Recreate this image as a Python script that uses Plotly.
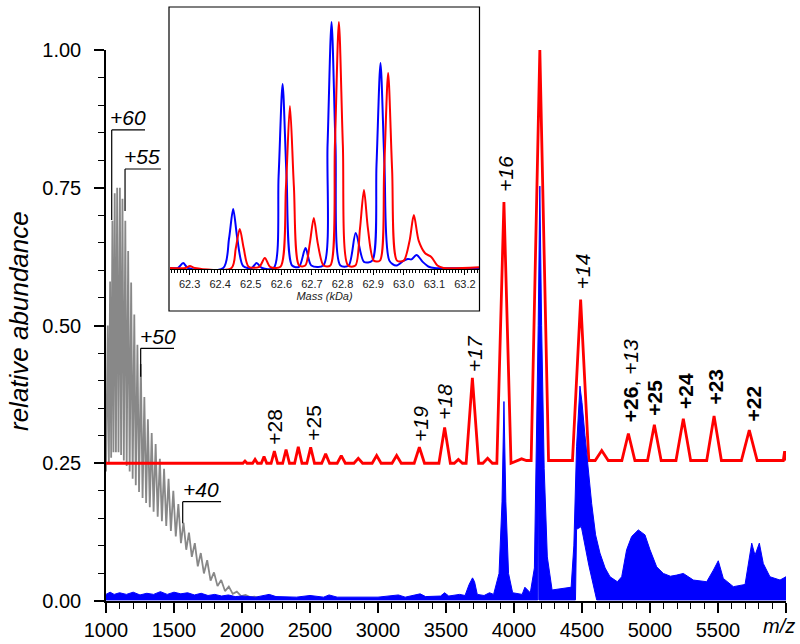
import plotly.graph_objects as go

# ---------------- main spectrum data (m/z, relative abundance) ----------------
# grey: charge-state envelope (peaks and valleys)
grey_peak_mz = [1013, 1030, 1047, 1064, 1082, 1102, 1121, 1142, 1163, 1185, 1208, 1231,
                1256, 1282, 1308, 1336, 1365, 1396, 1427, 1460, 1495, 1532, 1570, 1610,
                1653, 1697, 1744, 1794, 1847, 1903, 1962, 2026, 2093]
grey_peak_ab = [0.50, 0.58, 0.69, 0.74, 0.75, 0.75, 0.73, 0.69, 0.635, 0.578, 0.52, 0.465,
                0.43, 0.37, 0.33, 0.305, 0.285, 0.258, 0.24, 0.222, 0.20, 0.176, 0.142, 0.124,
                0.105, 0.087, 0.074, 0.052, 0.038, 0.026, 0.017, 0.011, 0.008]
grey_valley_mz = [1000, 1021, 1038, 1055, 1073, 1092, 1111, 1131, 1152, 1174, 1196, 1219, 1243,
                  1269, 1295, 1322, 1350, 1380, 1411, 1443, 1477, 1513, 1551, 1590, 1631,
                  1675, 1720, 1769, 1820, 1875, 1932, 1994, 2059, 2130]
grey_valley_ab = [0.235, 0.25, 0.26, 0.27, 0.27, 0.27, 0.265, 0.255, 0.245, 0.235, 0.222, 0.21, 0.198,
                  0.187, 0.178, 0.17, 0.162, 0.153, 0.145, 0.136, 0.127, 0.117, 0.105, 0.093, 0.08,
                  0.063, 0.05, 0.037, 0.027, 0.018, 0.013, 0.009, 0.007, 0.005]

# red: offset spectrum, peak table (centre, apex, half width at base, local baseline)
red_peak_mz = [2022, 2096, 2162, 2238, 2324, 2414, 2505, 2615, 2730, 2855, 2990, 3137, 3304,
               3490, 3591, 3694, 3806, 3926, 4056, 4190, 4490, 4645, 4841, 5032, 5245, 5471,
               5730, 5990]
red_peak_ab = [0.254, 0.257, 0.262, 0.272, 0.275, 0.28, 0.279, 0.267, 0.264, 0.259, 0.264, 0.264,
               0.279, 0.315, 0.257, 0.405, 0.259, 0.724, 0.258, 1.0, 0.547, 0.273, 0.304, 0.32,
               0.331, 0.336, 0.31, 0.272]
red_peak_hw = [15, 18, 20, 24, 25, 27, 28, 29, 30, 32, 33, 34, 38, 42, 30, 46, 35, 52, 35, 64, 60,
               48, 48, 50, 54, 54, 58, 10]
red_peak_base = [0.25] * 18 + [0.255] * 10
red_start = (1000, 0.25)
red_end = (6000, 0.258)

# blue: dense spectrum drawn as envelope band (upper and lower edges)
blue_upper_mz = [1000, 1030, 1060, 1100, 1150, 1200, 1250, 1300, 1350, 1400, 1450, 1500, 1550,
                 1600, 1650, 1700, 1750, 1800, 1850, 1900, 1950, 2000, 2100, 2200, 2250, 2400,
                 2500, 2600, 2640, 2700, 3000, 3150, 3200, 3280, 3310, 3350, 3460, 3490, 3520,
                 3600, 3640, 3670, 3695, 3710, 3730, 3780, 3820, 3850, 3890, 3912, 3926, 3940,
                 3960, 3990, 4060, 4080, 4100, 4120, 4150, 4163, 4178, 4190, 4203, 4222, 4245,
                 4280, 4350, 4420, 4440, 4460, 4485, 4500, 4522, 4545, 4571, 4600, 4632, 4670,
                 4706, 4760, 4792, 4828, 4865, 4914, 4963, 5000, 5049, 5098, 5150, 5196, 5245,
                 5319, 5417, 5466, 5502, 5539, 5613, 5699, 5723, 5748, 5772, 5804, 5833, 5882,
                 5956, 6000]
blue_upper_ab = [0.012, 0.016, 0.012, 0.015, 0.012, 0.016, 0.011, 0.014, 0.012, 0.017, 0.012,
                 0.016, 0.013, 0.015, 0.011, 0.014, 0.010, 0.012, 0.009, 0.011, 0.008, 0.009,
                 0.007, 0.012, 0.008, 0.007, 0.010, 0.007, 0.011, 0.007, 0.007, 0.011, 0.007,
                 0.012, 0.013, 0.008, 0.009, 0.015, 0.009, 0.012, 0.010, 0.030, 0.042, 0.035,
                 0.012, 0.010, 0.015, 0.012, 0.05, 0.18, 0.362, 0.18, 0.05, 0.015, 0.012, 0.025,
                 0.02, 0.015, 0.06, 0.24, 0.5, 0.753, 0.5, 0.24, 0.08, 0.02, 0.022, 0.025, 0.1,
                 0.28, 0.39, 0.36, 0.30, 0.24, 0.177, 0.12, 0.087, 0.06, 0.044, 0.035, 0.044,
                 0.093, 0.117, 0.129, 0.12, 0.093, 0.062, 0.05, 0.045, 0.047, 0.05, 0.038, 0.035,
                 0.056, 0.073, 0.041, 0.026, 0.03, 0.068, 0.105, 0.083, 0.105, 0.068, 0.044,
                 0.038, 0.044]
blue_lower_mz = [6000, 4608, 4550, 4495, 4460, 4452, 4183, 4179, 4175, 1000]
blue_lower_ab = [0.002, 0.002, 0.065, 0.135, 0.13, 0.002, 0.002, 0.31, 0.002, 0.002]

# ---------------- inset data (mass in kDa, normalised intensity) ----------------
inset_blue_mass = [62.236, 62.262, 62.279, 62.295, 62.41, 62.429, 62.4425, 62.456, 62.475,
                   62.503, 62.519, 62.537, 62.575, 62.591, 62.604, 62.617, 62.635, 62.658,
                   62.679, 62.698, 62.737, 62.751, 62.764, 62.777, 62.793, 62.82, 62.843, 62.87,
                   62.897, 62.911, 62.924, 62.937, 62.953, 62.975, 63.0, 63.013, 63.025, 63.042,
                   63.062, 63.082, 63.1, 63.246]
inset_blue_int = [0.0, 0.0, 0.02, 0.0, 0.0, 0.12, 0.24, 0.12, 0.008,
                  0.0, 0.02, 0.0, 0.0, 0.374, 0.748, 0.374, 0.01, 0.005,
                  0.081, 0.01, 0.01, 0.5, 1.0, 0.5, 0.01, 0.01, 0.142, 0.025,
                  0.03, 0.42, 0.833, 0.42, 0.03, 0.01, 0.03, 0.037, 0.035, 0.053,
                  0.025, 0.005, 0.0, 0.0]
inset_red_mass = [62.236, 62.287, 62.301, 62.317, 62.437, 62.451, 62.464, 62.477, 62.493, 62.528,
                  62.546, 62.563, 62.597, 62.615, 62.628, 62.641, 62.658, 62.678, 62.693, 62.706,
                  62.719, 62.738, 62.76, 62.775, 62.788, 62.801, 62.818, 62.842, 62.857, 62.87,
                  62.883, 62.902, 62.922, 62.936, 62.949, 62.962, 62.978, 63.0, 63.019, 63.033,
                  63.049, 63.07, 63.09, 63.11, 63.13, 63.246]
inset_red_int = [0.0, 0.0, 0.008, 0.0, 0.0, 0.08, 0.159, 0.08, 0.005, 0.005,
                 0.041, 0.005, 0.005, 0.33, 0.659, 0.33, 0.01, 0.01, 0.1, 0.203,
                 0.1, 0.01, 0.01, 0.5, 1.0, 0.5, 0.01, 0.01, 0.16, 0.317,
                 0.16, 0.03, 0.03, 0.4, 0.793, 0.4, 0.03, 0.03, 0.11, 0.215,
                 0.11, 0.06, 0.045, 0.01, 0.0, 0.003]

# ---------------- labels ----------------
peak_label_text = ['+28', '+25', '<i>+19</i>', '<i>+18</i>', '<i>+17</i>', '<i>+16</i>',
                   '<i>+15</i>', '<i>+14</i>', '<b>+26</b>, <i>+13</i>', '<b>+25</b>',
                   '<b>+24</b>', '<b>+23</b>', '<b>+22</b>']
peak_label_mz = [2243, 2524, 3312, 3493, 3710, 3940, 4210, 4504, 4853, 5037, 5257, 5485, 5754]
peak_label_ab = [0.3165, 0.324, 0.3225, 0.3617, 0.4495, 0.775, 1.048, 0.5977, 0.399, 0.369,
                 0.381, 0.389, 0.3575]

bracket_text = ['+60', '+55', '+50', '+40']
bracket_peak_mz = [1042, 1140, 1255, 1564]
bracket_peak_ab = [0.6915, 0.708, 0.407, 0.141]
bracket_bar_ab = [0.855, 0.784, 0.4586, 0.1802]
bracket_bar_end = [1287, 1404, 1500, 1846]
bracket_text_mz = [1165, 1262, 1379, 1697]
bracket_text_ab = [0.8766, 0.806, 0.48, 0.2015]

# ---------------- build traces ----------------
gx, gy = [], []
for i in range(len(grey_peak_mz)):
    gx += [grey_valley_mz[i], grey_peak_mz[i]]
    gy += [grey_valley_ab[i], grey_peak_ab[i]]
gx.append(grey_valley_mz[-1]); gy.append(grey_valley_ab[-1])

rx, ry = [red_start[0]], [red_start[1]]
for c, t, w, b in zip(red_peak_mz, red_peak_ab, red_peak_hw, red_peak_base):
    rx += [c - w, c, c + w]
    ry += [b, t, b]
rx.append(red_end[0]); ry.append(red_end[1])

bx = blue_upper_mz + blue_lower_mz
by = blue_upper_ab + blue_lower_ab

fig = go.Figure()
fig.add_trace(go.Scatter(x=gx, y=gy, mode='lines', line=dict(color='#888888', width=1.8),
                         hoverinfo='skip', xaxis='x', yaxis='y'))
fig.add_trace(go.Scatter(x=rx, y=ry, mode='lines', line=dict(color='#ff0000', width=2.8),
                         hoverinfo='skip', xaxis='x', yaxis='y'))
fig.add_trace(go.Scatter(x=bx, y=by, mode='lines', fill='toself', fillcolor='#0000ff',
                         line=dict(color='#0000ff', width=1), hoverinfo='skip',
                         xaxis='x', yaxis='y'))
fig.add_trace(go.Scatter(x=inset_blue_mass, y=inset_blue_int, mode='lines',
                         line=dict(color='#0000ff', width=2, shape='spline', smoothing=0.8),
                         hoverinfo='skip', xaxis='x2', yaxis='y2'))
fig.add_trace(go.Scatter(x=inset_red_mass, y=inset_red_int, mode='lines',
                         line=dict(color='#ff0000', width=2, shape='spline', smoothing=0.8),
                         hoverinfo='skip', xaxis='x2', yaxis='y2'))

# ---------------- layout ----------------
L, R, T, B = 106, 14, 5, 43
W, H = 800, 644
PW, PH = W - L - R, H - T - B

def px_x(p):
    return (p - L) / PW

def px_y(p):
    return (H - B - p) / PH

font_family = 'Arial, Liberation Sans, sans-serif'

annotations = []
for t, x, y in zip(peak_label_text, peak_label_mz, peak_label_ab):
    annotations.append(dict(text=t, x=x, y=y, xref='x', yref='y', showarrow=False,
                            textangle=-90, xanchor='center', yanchor='middle',
                            font=dict(size=21, color='black', family=font_family)))
for t, x, y in zip(bracket_text, bracket_text_mz, bracket_text_ab):
    annotations.append(dict(text='<i>' + t + '</i>', x=x, y=y, xref='x', yref='y',
                            showarrow=False, xanchor='center', yanchor='middle',
                            font=dict(size=21, color='black', family=font_family)))
annotations.append(dict(text='<i>relative abundance</i>', x=px_x(19), y=px_y(321),
                        xref='paper', yref='paper', showarrow=False, textangle=-90,
                        xanchor='center', yanchor='middle',
                        font=dict(size=26, color='black', family=font_family)))
annotations.append(dict(text='<i>m/z</i>', x=px_x(779), y=px_y(626), xref='paper',
                        yref='paper', showarrow=False, xanchor='center', yanchor='middle',
                        font=dict(size=20, color='black', family=font_family)))

shapes = []
for xm, yp, yb, xe in zip(bracket_peak_mz, bracket_peak_ab, bracket_bar_ab, bracket_bar_end):
    shapes.append(dict(type='line', xref='x', yref='y', x0=xm, x1=xm, y0=yp, y1=yb,
                       line=dict(color='black', width=1.2)))
    shapes.append(dict(type='line', xref='x', yref='y', x0=xm, x1=xe, y0=yb, y1=yb,
                       line=dict(color='black', width=1.2)))
shapes.append(dict(type='rect', xref='paper', yref='paper', x0=px_x(169), x1=px_x(479.5),
                   y0=px_y(311), y1=px_y(7), line=dict(color='black', width=1.2),
                   fillcolor='rgba(0,0,0,0)'))

fig.update_layout(
    template='none',
    width=W, height=H,
    margin=dict(l=L, r=R, t=T, b=B, autoexpand=False),
    paper_bgcolor='white', plot_bgcolor='white',
    showlegend=False,
    font=dict(family=font_family, color='black', size=20),
    annotations=annotations,
    shapes=shapes,
    xaxis=dict(domain=[0, 1], range=[1000, 6000], tickmode='linear', tick0=1000, dtick=500,
               ticks='outside', ticklen=10, tickwidth=1.5, tickcolor='black',
               showline=True, linecolor='black', linewidth=1.5, showgrid=False,
               zeroline=False, labelalias={'6000': ''}, tickfont=dict(size=20),
               automargin=False,
               minor=dict(ticks='outside', ticklen=6, tickmode='linear', tick0=1000, dtick=100,
                          tickcolor='black', tickwidth=1.2, showgrid=False),
               anchor='y'),
    yaxis=dict(domain=[0, 551 / PH], range=[0, 1], tickmode='linear', tick0=0, dtick=0.25,
               tickformat='.2f', ticks='outside', ticklen=10, tickwidth=1.5,
               tickcolor='black', showline=True, linecolor='black', linewidth=1.5,
               showgrid=False, zeroline=False, tickfont=dict(size=20), automargin=False,
               ticklabelstandoff=9,
               minor=dict(ticks='outside', ticklen=6, tickmode='linear', tick0=0, dtick=0.05,
                          tickcolor='black', tickwidth=1.2, showgrid=False),
               anchor='x'),
    xaxis2=dict(domain=[px_x(170), px_x(479)], range=[62.236, 63.246], anchor='y2',
                tickmode='linear', tick0=62.3, dtick=0.1, tickformat='.1f',
                ticks='outside', ticklen=5, tickwidth=1, tickcolor='black',
                showline=True, linecolor='black', linewidth=1, showgrid=False,
                zeroline=False, tickfont=dict(size=11, color='#222222'), automargin=False,
                minor=dict(ticks='outside', ticklen=3, tickmode='linear', tick0=62.3,
                           dtick=0.01, tickcolor='black', tickwidth=0.8, showgrid=False),
                title=dict(text='<i>Mass (kDa)</i>', font=dict(size=11, color='#222222'),
                           standoff=3)),
    yaxis2=dict(domain=[px_y(269), px_y(14)], range=[-1 / 246, 254 / 246], anchor='x2',
                visible=False, showgrid=False, zeroline=False, automargin=False),
)

fig.write_html('out.html', config={'displayModeBar': False},
               post_script="document.body.style.margin='0';document.body.style.overflow='hidden';")
